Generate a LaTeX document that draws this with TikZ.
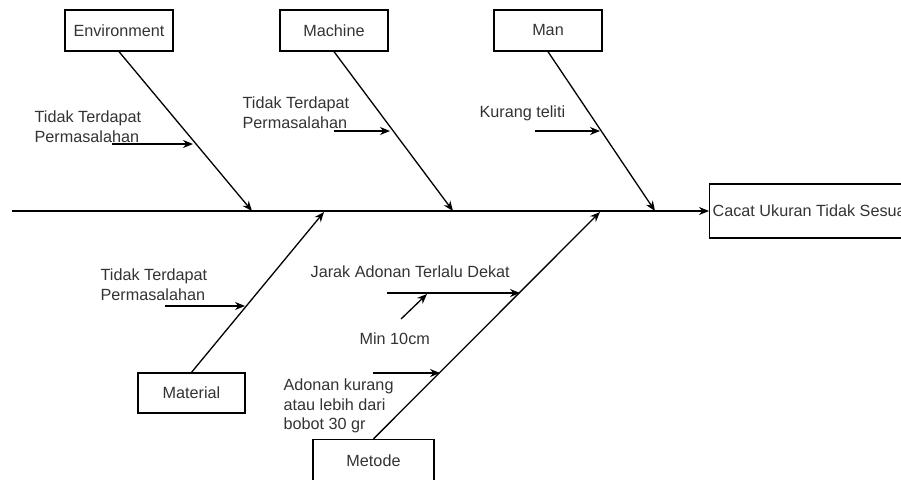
\documentclass[tikz,border=0pt]{standalone}
\usepackage{fontspec}
\setmainfont{Liberation Sans}
\usetikzlibrary{arrows.meta}
\definecolor{txtgray}{RGB}{51,51,51}

\begin{document}
\begin{tikzpicture}[x=1pt,y=-1pt,>={Stealth[length=10pt,width=8pt]},line width=1.3pt,
  box/.style={draw,rectangle,minimum width=108pt,minimum height=41pt,inner sep=0pt,
    text=txtgray,font=\fontsize{16.2}{19.8}\selectfont},
  lbl/.style={anchor=north west,inner sep=0pt,align=left,text=txtgray,
    font=\fontsize{16.2}{19.8}\selectfont}]
  \useasboundingbox (0,0) rectangle (901,479);
  % kategori atas
  \node[box] (env)  at (119,30.5) {Environment};
  \node[box] (mach) at (334,30.5) {Machine};
  \node[box] (man)  at (548,30.5) {Man};
  % kategori bawah
  \node[box,minimum width=107pt,minimum height=40pt] (mat) at (191.5,393) {Material};
  \node[box,minimum width=121pt,minimum height=42pt] (met) at (373.5,460.5) {Metode};
  % akibat
  \node[box,anchor=west,minimum width=0pt,minimum height=54pt,inner xsep=3pt] (effect) at (709,211) {Cacat Ukuran Tidak Sesuai};
  % tulang utama
  \coordinate (tail) at (12,211);
  \draw[->] (tail) -- (effect.west);
  % tulang kategori
  \coordinate (envhit) at (252,211);
  \coordinate (machit) at (453,211);
  \coordinate (manhit) at (655,211);
  \coordinate (mathit) at (324,212);
  \coordinate (methit) at (600,212);
  \draw[->] (env.south) -- (envhit);
  \draw[->] (mach.south) -- (machit);
  \draw[->] (man.south) -- (manhit);
  \draw[->] (mat.north) -- (mathit);
  \draw[->] (met.north) -- (methit);
  % penyebab
  \node[lbl] (envcause) at (34,110) {Tidak Terdapat\\Permasalahan};
  \coordinate (envfrom) at (112,144);
  \coordinate (envto) at (193,144);
  \draw[->] (envfrom) -- (envto);
  \node[lbl] (maccause) at (242,96) {Tidak Terdapat\\Permasalahan};
  \coordinate (macfrom) at (334,131);
  \coordinate (macto) at (390,131);
  \draw[->] (macfrom) -- (macto);
  \node[lbl] (mancause) at (479,105) {Kurang teliti};
  \coordinate (manfrom) at (535,131);
  \coordinate (manto) at (600,131);
  \draw[->] (manfrom) -- (manto);
  \node[lbl] (matcause) at (100,268) {Tidak Terdapat\\Permasalahan};
  \coordinate (matfrom) at (165,306);
  \coordinate (matto) at (245,306);
  \draw[->] (matfrom) -- (matto);
  \node[lbl] (jarak) at (310,265) {Jarak Adonan Terlalu Dekat};
  \coordinate (jarfrom) at (387,293);
  \coordinate (jarto) at (520,293);
  \draw[->] (jarfrom) -- (jarto);
  \node[lbl] (minjarak) at (359,332) {Min 10cm};
  \coordinate (minfrom) at (401,319);
  \coordinate (minto) at (427,294);
  \draw[->] (minfrom) -- (minto);
  \node[lbl] (bobot) at (283,378) {Adonan kurang\\atau lebih dari\\bobot 30 gr};
  \coordinate (bobfrom) at (373,373);
  \coordinate (bobto) at (440,373);
  \draw[->] (bobfrom) -- (bobto);
\end{tikzpicture}
\end{document}
